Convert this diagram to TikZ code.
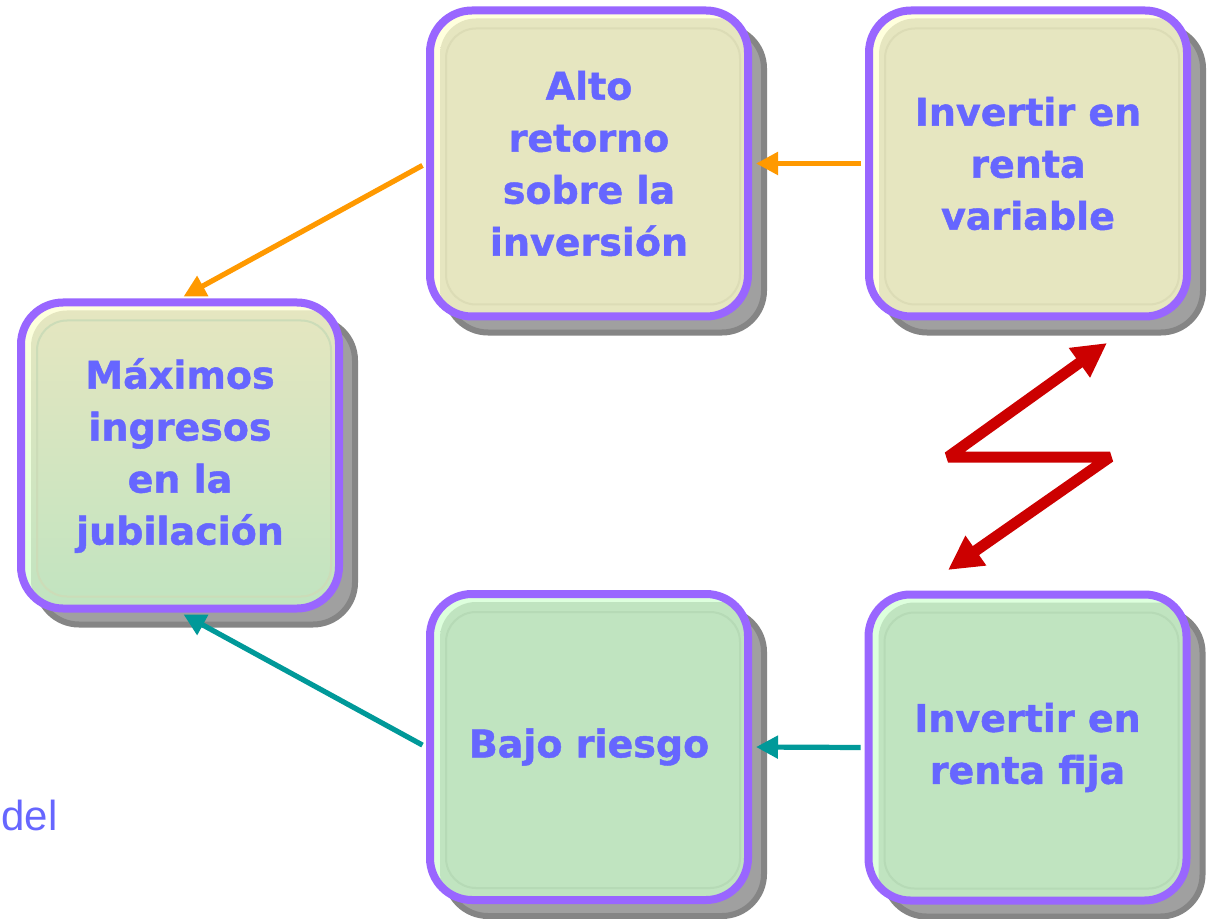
\documentclass[tikz,border=0pt]{standalone}
\usepackage{fontspec}
\usetikzlibrary{shadows,arrows.meta}
\newfontfamily\boxfont{DejaVu Sans}[BoldFeatures={FakeBold=1.2}]
\newfontfamily\bgfont{Liberation Sans}
\definecolor{boxborder}{HTML}{9966FF}
\definecolor{txtblue}{HTML}{6666FF}
\definecolor{beigemain}{HTML}{E6E6C0}
\definecolor{beigelight}{HTML}{FFFFDD}
\definecolor{beigeline}{HTML}{DCDCB6}
\definecolor{mintmain}{HTML}{C0E4C0}
\definecolor{mintlight}{HTML}{DDFFDD}
\definecolor{mintline}{HTML}{B6DAB6}
\definecolor{mixline}{HTML}{CCDCB8}
\definecolor{shadowfill}{HTML}{A0A0A0}
\definecolor{shadowedge}{HTML}{858585}
\definecolor{arroworange}{HTML}{FF9900}
\definecolor{arrowteal}{HTML}{009999}
\definecolor{arrowred}{HTML}{CC0000}
\tikzset{
  card/.style n args={5}{
    rectangle, rounded corners=21pt, minimum width=159pt, minimum height=153pt,
    inner sep=0pt, draw=boxborder, line width=4pt, top color=#1, bottom color=#2,
    align=center, text=txtblue,
    font=\boxfont\bfseries\fontsize{19}{26}\selectfont,
    drop shadow={shadow xshift=8pt, shadow yshift=-8pt, opacity=1,
      fill=shadowfill, draw=shadowedge, line width=3pt},
    path picture={
      \shade[top color=#3, bottom color=#4, rounded corners=18pt]
        ([shift={(5pt,-4pt)}]path picture bounding box.north west) rectangle
        ([shift={(5pt,-4pt)}]path picture bounding box.south east);
      \draw[draw=#5, line width=1pt, rounded corners=15pt]
        ([shift={(8pt,-9pt)}]path picture bounding box.north west) rectangle
        ([shift={(-4pt,6pt)}]path picture bounding box.south east);
    }},
  beigecard/.style={card={beigelight}{beigelight}{beigemain}{beigemain}{beigeline}},
  mintcard/.style={card={mintlight}{mintlight}{mintmain}{mintmain}{mintline}},
  mixcard/.style={card={beigelight}{mintlight}{beigemain}{mintmain}{mixline}},
  flow/.style={line width=2.6pt, -{Triangle[length=11pt,width=11pt]},
    shorten >=2pt, shorten <=2pt},
  zigzag/.style={draw=arrowred, line width=5.5pt, line join=bevel,
    {Triangle[length=17pt,width=17pt]}-{Triangle[length=17pt,width=17pt]}},
  bgtext/.style={anchor=base west, inner sep=0pt, text=txtblue,
    font=\bgfont\fontsize{21}{21}\selectfont}
}
\begin{document}
\begin{tikzpicture}[x=0.5pt,y=-0.5pt]
\useasboundingbox[fill=white] (0,0) rectangle (1208,919);

\node[bgtext] (del) at (1,830) {del};

\node[beigecard] (alto) at (589,163.5) {Alto\\retorno\\sobre la\\inversión};
\node[beigecard] (var) at (1028,163.5) {Invertir en\\renta\\variable};
\node[mixcard] (max) at (180,455.5) {Máximos\\ingresos\\en la\\jubilación};
\node[mintcard] (bajo) at (589,747) {Bajo riesgo};
\node[mintcard] (fija) at (1027.5,747.5) {Invertir en\\renta fija};

\draw[flow, draw=arroworange] (var.west) -- (alto.east);
\draw[flow, draw=arroworange] (alto.west) -- (max.north);
\draw[flow, draw=arrowteal] (fija.west) -- (bajo.east);
\draw[flow, draw=arrowteal] (bajo.west) -- (max.south);

\coordinate (zA) at (1107,343);
\coordinate (zB) at (948,457);
\coordinate (zC) at (1110,457);
\coordinate (zD) at (948,570);
\draw[zigzag] (zA) -- (zB) -- (zC) -- (zD);
\end{tikzpicture}
\end{document}
